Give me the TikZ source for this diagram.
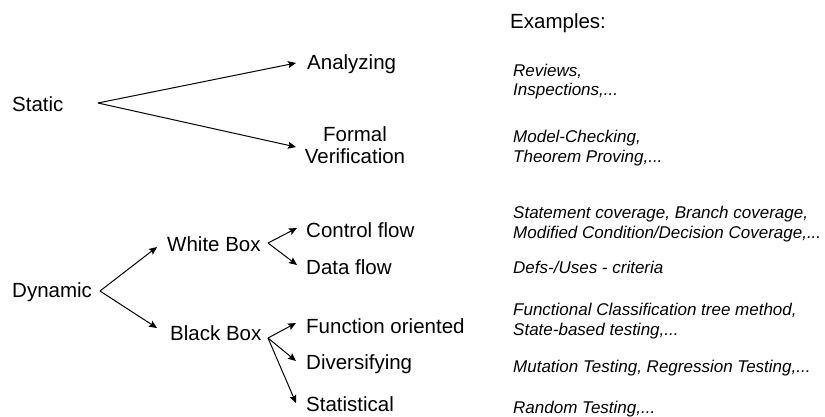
\documentclass[tikz,border=0pt]{standalone}
\usepackage{fontspec}
\setmainfont{Liberation Sans}
\usetikzlibrary{arrows.meta}

\begin{document}
\begin{tikzpicture}[x=1pt,y=-1pt,
  cat/.style={anchor=base west,inner sep=0pt,font=\fontsize{20.5}{24}\selectfont},
  ex/.style={anchor=base west,inner sep=0pt,font=\fontsize{17}{20}\selectfont\itshape},
  branch/.style={line width=1pt,-{Stealth[length=8pt,width=7pt,inset=1.5pt]}}]
\useasboundingbox (0,0) rectangle (825,416);

% heading of the examples column
\node[cat] (examples) at (510,28) {Examples:};

% static techniques
\node[cat] (static) at (12,111) {Static};
\node[cat] (analyzing) at (307,69) {Analyzing};
\node[cat,anchor=base] (formal) at (355,141) {Formal};
\node[cat,anchor=base] (verification) at (355,163) {Verification};

% dynamic techniques
\node[cat] (dynamic) at (12,297) {Dynamic};
\node[cat] (white) at (167,251) {White Box};
\node[cat] (black) at (170,340) {Black Box};
\node[cat] (control) at (306,237) {Control flow};
\node[cat] (data) at (306,274) {Data flow};
\node[cat] (function) at (306,333) {Function oriented};
\node[cat] (divers) at (306,369) {Diversifying};
\node[cat] (statistical) at (306,411) {Statistical};

% examples
\node[ex] (ex1a) at (513,76) {Reviews,};
\node[ex] (ex1b) at (513,95) {Inspections,...};
\node[ex] (ex2a) at (513,142) {Model-Checking,};
\node[ex] (ex2b) at (513,162) {Theorem Proving,...};
\node[ex] (ex3a) at (513,218) {Statement coverage, Branch coverage,};
\node[ex] (ex3b) at (513,238) {Modified Condition/Decision Coverage,...};
\node[ex] (ex4) at (513,273) {Defs-/Uses - criteria};
\node[ex] (ex5a) at (513,315) {Functional Classification tree method,};
\node[ex] (ex5b) at (513,335) {State-based testing,...};
\node[ex] (ex6) at (513,372) {Mutation Testing, Regression Testing,...};
\node[ex] (ex7) at (513,413) {Random Testing,...};

% fork points and arrow tips
\coordinate (fs) at (98,103);
\coordinate (ta) at (296,63);
\coordinate (tf) at (296,147);
\coordinate (fd) at (100,291);
\coordinate (tw) at (157,247);
\coordinate (tb) at (157,328);
\coordinate (fw) at (268,243);
\coordinate (tc) at (297,228);
\coordinate (tdf) at (297,265);
\coordinate (fb) at (268,338);
\coordinate (tfo) at (296,323);
\coordinate (tdv) at (296,361);
\coordinate (tst) at (296,403);

\draw[branch] (fs) -- (ta);
\draw[branch] (fs) -- (tf);
\draw[branch] (fd) -- (tw);
\draw[branch] (fd) -- (tb);
\draw[branch] (fw) -- (tc);
\draw[branch] (fw) -- (tdf);
\draw[branch] (fb) -- (tfo);
\draw[branch] (fb) -- (tdv);
\draw[branch] (fb) -- (tst);
\end{tikzpicture}
\end{document}
